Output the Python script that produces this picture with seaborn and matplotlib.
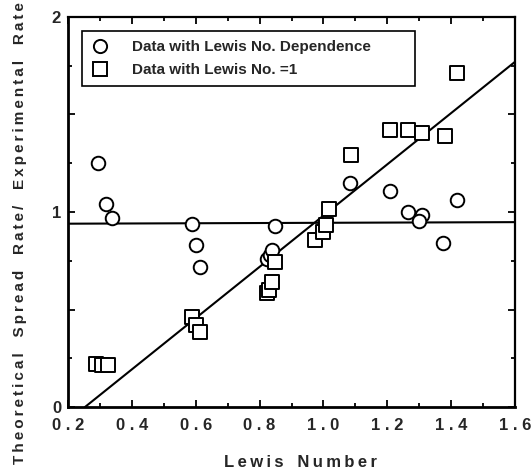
import numpy as np
import pandas as pd
import matplotlib
matplotlib.use("Agg")
import matplotlib.pyplot as plt
from matplotlib.ticker import MultipleLocator, FuncFormatter
from matplotlib.lines import Line2D
import seaborn as sns

# ---- data ----
lewis_dep_x = [0.294, 0.319, 0.338, 0.588, 0.601, 0.613, 0.823, 0.832, 0.839, 0.848,
               1.083, 1.208, 1.265, 1.31, 1.30, 1.374, 1.418]
lewis_dep_y = [1.25, 1.04, 0.97, 0.94, 0.83, 0.72, 0.76, 0.78, 0.805, 0.93,
               1.15, 1.11, 1.00, 0.985, 0.955, 0.84, 1.06]

lewis_one_x = [0.288, 0.305, 0.325, 0.588, 0.601, 0.613, 0.823, 0.830, 0.839, 0.848,
               0.974, 0.999, 1.008, 1.017, 1.086, 1.208, 1.265, 1.31, 1.38, 1.418]
lewis_one_y = [0.22, 0.215, 0.215, 0.46, 0.42, 0.385, 0.585, 0.60, 0.64, 0.745,
               0.856, 0.897, 0.933, 1.015, 1.29, 1.42, 1.42, 1.405, 1.39, 1.71]

flat_fit_x = [0.2, 1.6]
flat_fit_y = [0.94, 0.948]
slope_fit_x = [0.253, 1.6]
slope_fit_y = [0.0, 1.77]

labels = ["Data with Lewis No. Dependence", "Data with Lewis No. =1"]

# ---- style ----
sns.set_style("ticks")
plt.rcParams['font.family'] = ['Liberation Sans', 'DejaVu Sans']
plt.rcParams['font.weight'] = 'bold'

fig = plt.figure(figsize=(5.31, 4.69), dpi=100)
ax = fig.add_axes([0.128, 0.132, 0.842, 0.832])

df_dep = pd.DataFrame({"x": lewis_dep_x, "y": lewis_dep_y})
df_one = pd.DataFrame({"x": lewis_one_x, "y": lewis_one_y})

sns.lineplot(x=flat_fit_x, y=flat_fit_y, ax=ax, color='black', lw=1.5)
sns.lineplot(x=slope_fit_x, y=slope_fit_y, ax=ax, color='black', lw=1.5)

sns.scatterplot(data=df_dep, x="x", y="y", ax=ax, marker='o', s=95,
                facecolor='white', edgecolor='black', linewidth=1.4, zorder=3)
sns.scatterplot(data=df_one, x="x", y="y", ax=ax, marker='s', s=105,
                facecolor='white', edgecolor='black', linewidth=1.4, zorder=3)

ax.set_xlim(0.2, 1.6)
ax.set_ylim(0, 2)

ax.xaxis.set_major_locator(MultipleLocator(0.2))
ax.xaxis.set_minor_locator(MultipleLocator(0.1))
ax.yaxis.set_major_locator(MultipleLocator(0.5))
ax.yaxis.set_minor_locator(MultipleLocator(0.25))

ax.xaxis.set_major_formatter(FuncFormatter(lambda v, p: " . ".join(f"{v:.1f}".split("."))))
ax.yaxis.set_major_formatter(FuncFormatter(lambda v, p: f"{int(round(v))}" if abs(v - round(v)) < 1e-6 else ""))

ax.tick_params(which='both', direction='in', top=True, right=True, width=1.3, color='black')
ax.tick_params(which='major', length=5)
ax.tick_params(which='minor', length=3)
ax.tick_params(axis='x', labelsize=12, pad=8)
ax.tick_params(axis='y', labelsize=12, pad=5)
for lab in ax.get_xticklabels() + ax.get_yticklabels():
    lab.set_fontweight('bold')

for side in ['left', 'bottom']:
    ax.spines[side].set_linewidth(2.0)
for side in ['top', 'right']:
    ax.spines[side].set_linewidth(1.6)
for s in ax.spines.values():
    s.set_color('black')

def spaced(s, sep='\u2009', gap='   '):
    words = s.split(' ')
    return gap.join(sep.join(w) for w in words)

ax.set_xlabel(spaced("Lewis Number"), fontsize=12, fontweight='bold')
ax.xaxis.set_label_coords(0.519, -0.123)
ax.set_ylabel(spaced("Theoretical Spread Rate/ Experimental Rate", sep='\u2009',
                     gap='   \u2009'),
              fontsize=11, fontweight='bold')
ax.yaxis.set_label_coords(-0.092, 0.447)

handles = [
    Line2D([], [], marker='o', ls='none', markersize=9.5, markerfacecolor='white',
           markeredgecolor='black', markeredgewidth=1.4),
    Line2D([], [], marker='s', ls='none', markersize=10, markerfacecolor='white',
           markeredgecolor='black', markeredgewidth=1.4),
]
leg = ax.legend(handles, labels, loc='upper left',
                bbox_to_anchor=(0.031, 0.82, 0.745, 0.144), mode='expand',
                frameon=True, fancybox=False, framealpha=1, edgecolor='black',
                prop={'size': 11, 'weight': 'bold'}, borderpad=0.6,
                handlelength=1.2, handletextpad=1.5, labelspacing=0.58,
                borderaxespad=0)
leg.get_frame().set_linewidth(1.2)

fig.savefig("out.png", dpi=100)
